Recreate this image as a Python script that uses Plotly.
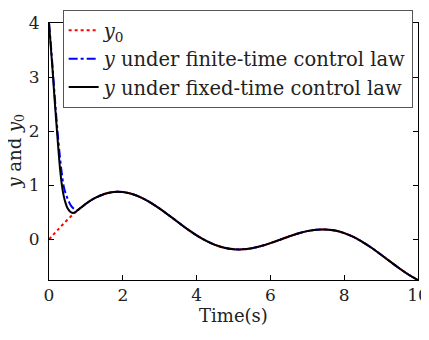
import plotly.graph_objects as go

t_ref = [0, 0.25, 0.5, 0.75, 1.0, 1.25, 1.5, 1.75, 2.0, 2.25, 2.5, 2.75, 3.0, 3.25, 3.5, 3.75,
         4.0, 4.25, 4.5, 4.75, 5.0, 5.25, 5.5, 5.75, 6.0, 6.25, 6.5, 6.75, 7.0, 7.25, 7.5, 7.75,
         8.0, 8.25, 8.5, 8.75, 9.0, 9.25, 9.5, 9.75, 10.0]
y0_ref = [0.0, 0.186, 0.363, 0.524, 0.660, 0.767, 0.840, 0.876, 0.875, 0.840, 0.774, 0.681,
          0.569, 0.445, 0.317, 0.191, 0.076, -0.022, -0.100, -0.153, -0.180, -0.183, -0.162,
          -0.122, -0.069, -0.008, 0.053, 0.110, 0.153, 0.180, 0.183, 0.163, 0.116, 0.046,
          -0.048, -0.159, -0.283, -0.411, -0.537, -0.653, -0.751]

t_fin_early = [0, 0.05, 0.1, 0.15, 0.2, 0.25, 0.3, 0.35, 0.4, 0.45, 0.5, 0.55, 0.6, 0.65, 0.7, 0.75]
y_fin_early = [4.0, 3.6, 3.15, 2.7, 2.25, 1.85, 1.5, 1.2, 0.98, 0.85, 0.76, 0.68, 0.62, 0.58, 0.555, 0.535]

t_fix_early = [0, 0.05, 0.1, 0.15, 0.2, 0.25, 0.3, 0.35, 0.4, 0.45, 0.5, 0.55, 0.6, 0.65, 0.7]
y_fix_early = [4.0, 3.55, 3.1, 2.6, 2.15, 1.7, 1.3, 1.0, 0.8, 0.67, 0.58, 0.53, 0.5, 0.49, 0.5]

# after convergence both tracked outputs coincide with y0
t_fin = t_fin_early + t_ref[4:]
y_fin = y_fin_early + y0_ref[4:]
t_fix = t_fix_early + t_ref[3:]
y_fix = y_fix_early + y0_ref[3:]

font = "'DejaVu Serif', 'Liberation Serif', serif"

fig = go.Figure()
fig.add_trace(go.Scatter(x=t_ref, y=y0_ref, mode="lines", name="<i>y</i><sub>0</sub>",
                         line=dict(color="red", width=2, dash="dot", shape="spline")))
fig.add_trace(go.Scatter(x=t_fin, y=y_fin, mode="lines",
                         name="<i>y</i> under finite-time control law",
                         line=dict(color="blue", width=2, dash="dashdot", shape="spline")))
fig.add_trace(go.Scatter(x=t_fix, y=y_fix, mode="lines",
                         name="<i>y</i> under fixed-time control law",
                         line=dict(color="black", width=2, shape="spline")))

axis_common = dict(showgrid=False, zeroline=False, showline=True, linecolor="black",
                   linewidth=1, mirror="ticks", ticks="inside", ticklen=5, tickcolor="black",
                   ticklabeloverflow="allow", automargin=False,
                   tickfont=dict(family=font, size=17, color="#222"))

# the page body has an 8px default margin, so the figure is sized to fit the window
fig.update_layout(
    width=421, height=332,
    margin=dict(l=41, r=11, t=2, b=60),
    plot_bgcolor="white", paper_bgcolor="white",
    font=dict(family=font, size=18, color="#222"),
    xaxis=dict(range=[0, 10], tickvals=[0, 2, 4, 6, 8, 10],
               title=dict(text="Time(s)", font=dict(family=font, size=18), standoff=2),
               **axis_common),
    yaxis=dict(range=[-0.75, 4], tickvals=[0, 1, 2, 3, 4], ticklabelstandoff=5,
               **axis_common),
    legend=dict(x=0.037, y=1.05, xanchor="left", yanchor="top",
                bgcolor="white", bordercolor="#555", borderwidth=1,
                font=dict(family=font, size=19.5), tracegroupgap=2, itemwidth=30),
    showlegend=True,
    annotations=[dict(text="<i>y</i> and <i>y</i><sub>0</sub>", textangle=-90,
                      xref="paper", yref="paper", x=-0.092, y=0.5,
                      xanchor="center", yanchor="middle", showarrow=False,
                      font=dict(family=font, size=18, color="#222"))],
)

fig.write_html("out.html")
